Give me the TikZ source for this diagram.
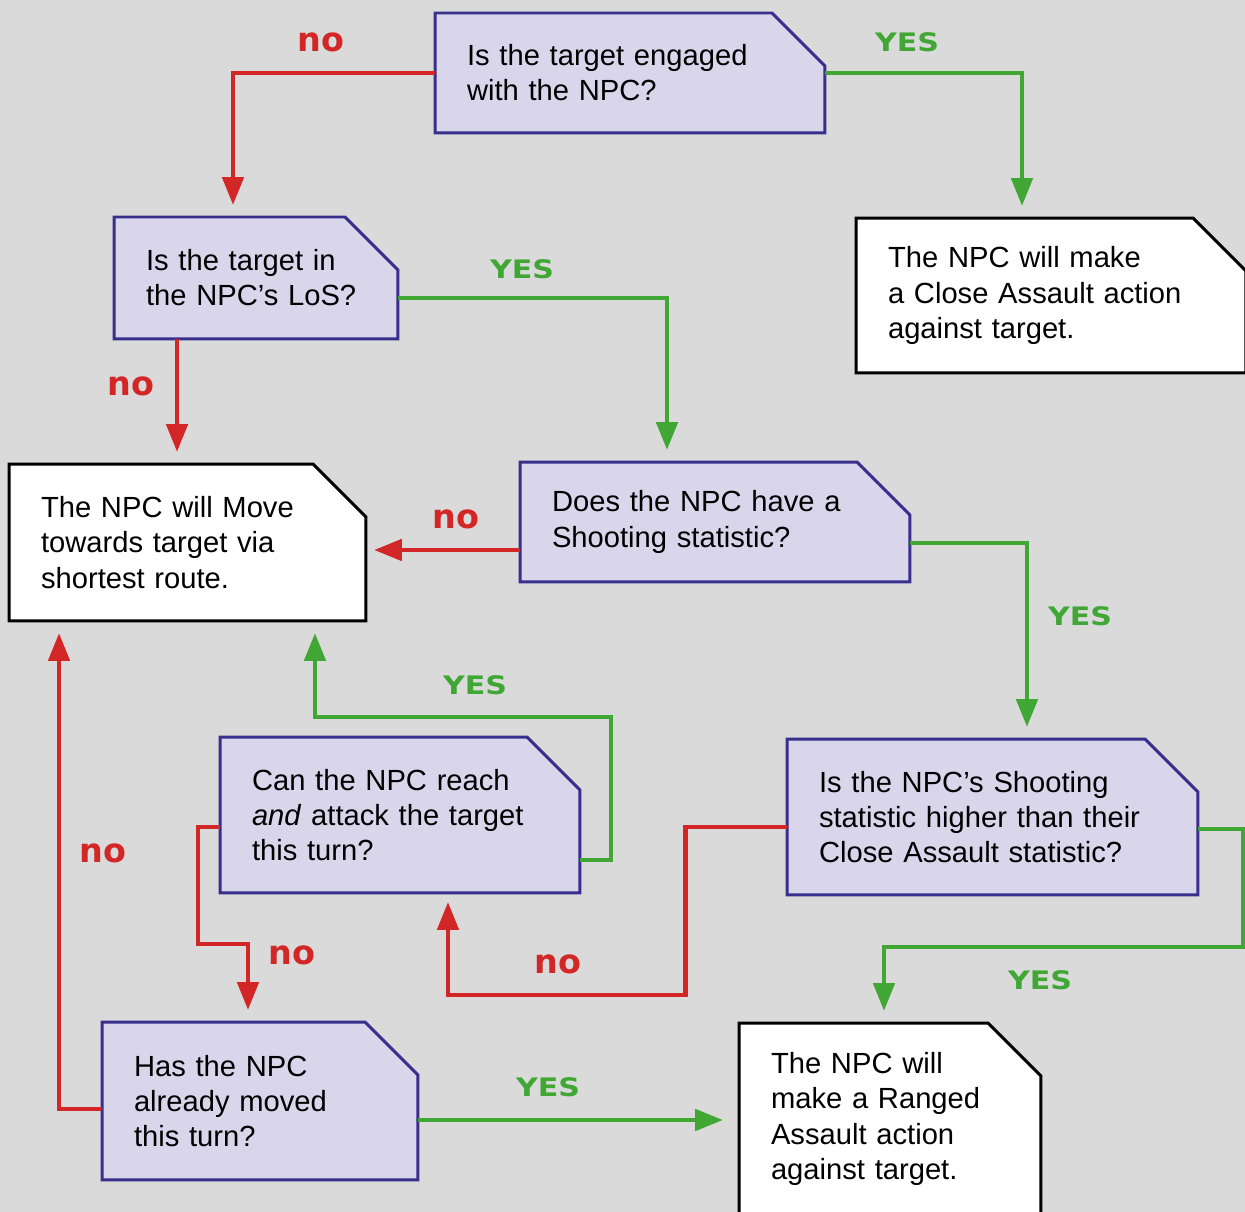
\documentclass[tikz,border=0pt]{standalone}
\usepackage{fontspec}
\setmainfont{Liberation Sans}
\newfontfamily\lblfont{DejaVu Sans}
\newfontfamily\yesfont[FakeStretch=1.18]{DejaVu Sans}
\usetikzlibrary{arrows.meta,backgrounds,calc,positioning}

\definecolor{bggrey}{RGB}{218,218,218}
\definecolor{qfill}{RGB}{217,214,236}
\definecolor{qdraw}{RGB}{56,46,140}
\definecolor{nored}{RGB}{211,39,39}
\definecolor{yesgreen}{RGB}{64,167,53}

\begin{document}
\begin{tikzpicture}[x=0.02cm, y=-0.02cm,
  qbox/.style={rectangle, align=left, inner xsep=0.64cm, inner ysep=0pt, outer sep=0pt,
    font=\fontsize{16.6pt}{20pt}\selectfont},
  qframe/.style={draw=qdraw, fill=qfill, line width=1.7pt},
  aframe/.style={draw=black, fill=white, line width=1.7pt},
  noline/.style={draw=nored, line width=2.8pt, -{Triangle[width=0.42cm, length=0.56cm]}, shorten >=0.24cm},
  yesline/.style={draw=yesgreen, line width=2.8pt, -{Triangle[width=0.42cm, length=0.56cm]}, shorten >=0.24cm},
  nolbl/.style={text=nored, font=\lblfont\bfseries\fontsize{19pt}{19pt}\selectfont},
  yeslbl/.style={text=yesgreen, font=\yesfont\bfseries\fontsize{14.5pt}{14.5pt}\selectfont}
]
\useasboundingbox (0,0) rectangle (1245,1212);

% questions and actions
\node[qbox, text width=6.52cm, minimum height=2.4cm] (engaged) at (630,73) {Is the target engaged\\with the NPC?};
\node[qbox, text width=6.52cm, minimum height=3.1cm] (close) at (1051,295.5) {The NPC will make\\a Close Assault action\\against target.};
\node[qbox, text width=4.4cm, minimum height=2.44cm] (los) at (256,278) {Is the target in\\the NPC’s LoS?};
\node[qbox, text width=5.86cm, minimum height=3.14cm] (move) at (187.5,542.5) {The NPC will Move\\towards target via\\shortest route.};
\node[qbox, text width=6.52cm, minimum height=2.4cm] (shoot) at (715,522) {Does the NPC have a\\Shooting statistic?};
\node[qbox, text width=5.92cm, minimum height=3.12cm] (reach) at (400,815) {Can the NPC reach\\\textit{and} attack the target\\this turn?};
\node[qbox, text width=6.94cm, minimum height=3.12cm] (higher) at (992.5,817) {Is the NPC’s Shooting\\statistic higher than their\\Close Assault statistic?};
\node[qbox, text width=5.04cm, minimum height=3.16cm] (moved) at (260,1101) {Has the NPC\\already moved\\this turn?};
\node[qbox, text width=4.76cm, minimum height=3.84cm] (ranged) at (890,1119) {The NPC will\\make a Ranged\\Assault action\\against target.};

\begin{scope}[on background layer]
\fill[bggrey] (0,0) rectangle (1245,1212);
\foreach \n in {engaged,los,shoot,reach,higher,moved}
  \draw[qframe] (\n.south west) |- ([xshift=-1.06cm]\n.north east) -- ([yshift=-1.06cm]\n.north east) -- (\n.south east) -- cycle;
\foreach \n in {close,move,ranged}
  \draw[aframe] (\n.south west) |- ([xshift=-1.06cm]\n.north east) -- ([yshift=-1.06cm]\n.north east) -- (\n.south east) -- cycle;
\end{scope}

\coordinate (losout) at ([xshift=-1.58cm]los.south);
\coordinate (shootout) at ([yshift=-0.56cm]shoot.west);
\coordinate (movedout) at ([yshift=-0.38cm]moved.east);

% connectors
\draw[noline] (engaged.west) -| ([xshift=-0.46cm]los.north);
\draw[yesline] (engaged.east) -| ([xshift=-0.58cm]close.north);
\draw[yesline] ([yshift=-0.4cm]los.east) -| ([xshift=-0.96cm]shoot.north);
\draw[noline] (losout) -- (losout |- move.north);
\draw[noline, shorten >=0.16cm] (shootout) -- (shootout -| move.east);
\draw[yesline] ([yshift=-0.42cm]shoot.east) -| ([xshift=0.69cm]higher.north);
\draw[noline, shorten >=0.18cm] ([yshift=-0.2cm]higher.west) -- ++(-102,0) -- ++(0,168) -| ([xshift=0.96cm]reach.south);
\draw[yesline] ([yshift=-0.24cm]higher.east) -- ++(45,0) -- ++(0,118) -| ([xshift=-0.12cm]ranged.north);
\draw[yesline] ([yshift=-0.9cm]reach.east) -- ++(31,0) -- ++(0,-143) -| ([xshift=2.55cm]move.south);
\draw[noline] ([yshift=-0.24cm]reach.west) -- ++(-22,0) -- ++(0,117) -| ([xshift=-0.24cm]moved.north);
\draw[noline] ([yshift=-0.16cm]moved.west) -| ([xshift=-2.57cm]move.south);
\draw[yesline, shorten >=0.32cm] (movedout) -- (movedout -| ranged.west);

% labels
\node[nolbl] (no1) at (321,42) {no};
\node[yeslbl] (yes1) at (907,42) {YES};
\node[yeslbl] (yes2) at (522,269) {YES};
\node[nolbl] (no2) at (131,386) {no};
\node[nolbl] (no3) at (456,519) {no};
\node[yeslbl] (yes3) at (1080,616) {YES};
\node[yeslbl] (yes4) at (475,685) {YES};
\node[nolbl] (no4) at (103,853) {no};
\node[nolbl] (no5) at (292,955) {no};
\node[nolbl] (no6) at (558,964) {no};
\node[yeslbl] (yes5) at (1040,980) {YES};
\node[yeslbl] (yes6) at (548,1087) {YES};
\end{tikzpicture}
\end{document}
